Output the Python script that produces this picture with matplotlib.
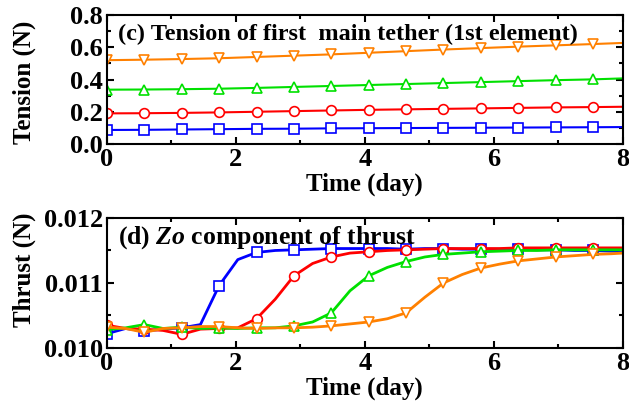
import matplotlib
matplotlib.use("Agg")
import matplotlib.pyplot as plt
from matplotlib.ticker import MultipleLocator, FormatStrFormatter

plt.rcParams['font.family'] = 'Liberation Serif'
plt.rcParams['font.weight'] = 'bold'
plt.rcParams['mathtext.fontset'] = 'custom'
plt.rcParams['mathtext.bfit'] = 'Liberation Serif:italic:bold'
plt.rcParams['mathtext.rm'] = 'Liberation Serif:bold'

# (c) tension, sampled at marker times
t_tension = [0.00, 0.58, 1.16, 1.74, 2.32, 2.90, 3.48, 4.06, 4.64, 5.22, 5.80, 6.38, 6.96, 7.54, 8.00]
tension_blue = [0.087, 0.088, 0.090, 0.092, 0.094, 0.095, 0.097, 0.098, 0.099, 0.100, 0.101, 0.102, 0.103, 0.104, 0.105]
tension_red = [0.190, 0.191, 0.193, 0.196, 0.200, 0.204, 0.208, 0.212, 0.215, 0.218, 0.221, 0.224, 0.227, 0.229, 0.231]
tension_green = [0.337, 0.338, 0.340, 0.343, 0.348, 0.354, 0.360, 0.366, 0.372, 0.378, 0.384, 0.390, 0.396, 0.401, 0.407]
tension_orange = [0.520, 0.523, 0.527, 0.532, 0.540, 0.548, 0.556, 0.566, 0.576, 0.586, 0.595, 0.604, 0.612, 0.620, 0.627]

# (d) Zo thrust component
t_thrust = [0.00, 0.29, 0.58, 0.87, 1.16, 1.45, 1.74, 2.03, 2.32, 2.61, 2.90, 3.19, 3.48, 3.77,
            4.06, 4.35, 4.64, 4.93, 5.22, 5.51, 5.80, 6.09, 6.38, 6.67, 6.96, 7.25, 7.54, 7.83, 8.00]
thrust_blue = [0.01022, 0.01030, 0.01026, 0.01029, 0.01031, 0.01036, 0.01096, 0.01136, 0.01147, 0.01150,
               0.01151, 0.01152, 0.01153, 0.01153, 0.01153, 0.01153, 0.01152, 0.01153, 0.01153, 0.01152,
               0.01152, 0.01152, 0.01152, 0.01151, 0.01151, 0.01150, 0.01150, 0.01149, 0.01149]
thrust_red = [0.01035, 0.01030, 0.01029, 0.01027, 0.01021, 0.01029, 0.01030, 0.01031, 0.01045, 0.01075,
              0.01111, 0.01130, 0.01140, 0.01146, 0.01148, 0.01150, 0.01151, 0.01152, 0.01153, 0.01153,
              0.01153, 0.01153, 0.01154, 0.01154, 0.01154, 0.01154, 0.01154, 0.01154, 0.01154]
thrust_green = [0.01028, 0.01031, 0.01036, 0.01030, 0.01032, 0.01030, 0.01031, 0.01030, 0.01031, 0.01031,
                0.01034, 0.01040, 0.01054, 0.01088, 0.01111, 0.01124, 0.01133, 0.01140, 0.01144, 0.01146,
                0.01148, 0.01149, 0.01150, 0.01150, 0.01151, 0.01151, 0.01151, 0.01151, 0.01151]
thrust_orange = [0.01032, 0.01030, 0.01024, 0.01030, 0.01031, 0.01033, 0.01033, 0.01031, 0.01030, 0.01031,
                 0.01031, 0.01032, 0.01034, 0.01037, 0.01040, 0.01045, 0.01054, 0.01078, 0.01100, 0.01113,
                 0.01123, 0.01129, 0.01134, 0.01137, 0.01140, 0.01142, 0.01144, 0.01145, 0.01146]

styles = [('#0000ff', 's'), ('#ff0000', 'o'), ('#00e000', '^'), ('#ff8000', 'v')]

fig = plt.figure(figsize=(6.29, 4.18), dpi=100)
ax1 = fig.add_axes([0.170, 0.6555, 0.820, 0.3085])
ax2 = fig.add_axes([0.170, 0.1675, 0.820, 0.311])

for ys, (c, m) in zip([tension_blue, tension_red, tension_green, tension_orange], styles):
    ax1.plot(t_tension, ys, color=c, lw=1.5, marker=m, ms=7, mfc='white', mec=c, mew=1.2,
             markevery=list(range(14)))

for ys, (c, m) in zip([thrust_blue, thrust_red, thrust_green, thrust_orange], styles):
    ax2.plot(t_thrust, ys, color=c, lw=2.0, marker=m, ms=7, mfc='white', mec=c, mew=1.2,
             markevery=list(range(0, 27, 2)))

ax1.set_xlim(0, 8)
ax1.set_ylim(0, 0.8)
ax1.yaxis.set_major_locator(MultipleLocator(0.2))
ax1.yaxis.set_minor_locator(MultipleLocator(0.1))
ax1.yaxis.set_major_formatter(FormatStrFormatter('%.1f'))

ax2.set_xlim(0, 8)
ax2.set_ylim(0.010, 0.012)
ax2.yaxis.set_major_locator(MultipleLocator(0.001))
ax2.yaxis.set_minor_locator(MultipleLocator(0.0005))
ax2.yaxis.set_major_formatter(FormatStrFormatter('%.3f'))

for ax in (ax1, ax2):
    ax.xaxis.set_major_locator(MultipleLocator(2))
    ax.xaxis.set_minor_locator(MultipleLocator(1))
    ax.tick_params(which='both', direction='in', top=True, right=True, labelsize=19, width=1.5)
    ax.tick_params(which='major', length=5, pad=3)
    ax.tick_params(which='minor', length=3)
    for s in ax.spines.values():
        s.set_linewidth(1.5)
    ax.set_xlabel('Time (day)', fontsize=18, fontweight='bold', labelpad=1)

ax1.set_ylabel('Tension (N)', fontsize=18, fontweight='bold')
ax2.set_ylabel('Thrust (N)', fontsize=18, fontweight='bold')
ax1.yaxis.set_label_coords(-0.137, 0.48)
ax2.yaxis.set_label_coords(-0.137, 0.60)

ax1.text(0.022, 0.85, '(c) Tension of first  main tether (1st element)', transform=ax1.transAxes,
         fontsize=17.5, fontweight='bold', va='center', ha='left')
ax2.text(0.022, 0.85, r'(d) $\mathbfit{Zo}$ component of thrust', transform=ax2.transAxes,
         fontsize=18.5, fontweight='bold', va='center', ha='left')

fig.savefig('out.png', dpi=100)
